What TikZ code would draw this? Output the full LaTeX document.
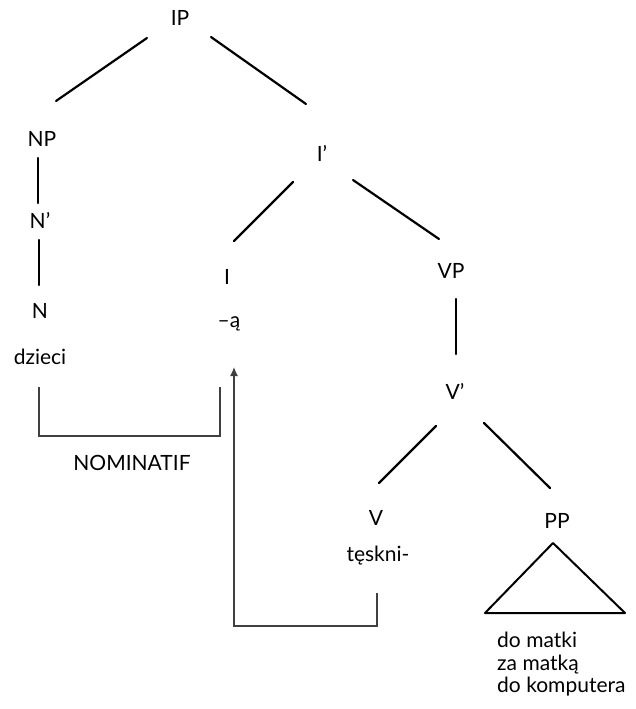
\documentclass[tikz,border=0pt]{standalone}
\usepackage{fontspec}
\setmainfont{Lato}
\usetikzlibrary{arrows.meta}

\begin{document}
\begin{tikzpicture}[x=1pt,y=-1pt,
  font=\fontsize{21}{22.5}\selectfont,
  every node/.style={inner sep=0pt},
  branch/.style={line width=2.2pt, line cap=round},
  link/.style={line width=1.3pt, draw=black!75}]
  \useasboundingbox (0,0) rectangle (635,709);

  % Define the labels of the tree
  \node (IP)     at (180,18)  {IP};
  \node (NP)     at (42,139)  {NP};
  \node (Nbar)   at (40,220)  {N’};
  \node (N)      at (40,311)  {N};
  \node (dzieci) at (40,357)  {dzieci};
  \node (Ibar)   at (322,153) {I’};
  \node (I)      at (227,277) {I};
  \node (suffix) at (229,324) {–ą};
  \node (VP)     at (451,271) {VP};
  \node (Vbar)   at (455,391) {V’};
  \node (V)      at (376,518) {V};
  \node (tesk)   at (378,556) {tęskni-};
  \node (PP)     at (557,521) {PP};
  \node (nomin)  at (132,463) {NOMINATIF};
  \node[align=left, anchor=north west] (lex) at (497,632)
    {do matki\\za matką\\do komputera};

  % Draw the branches
  \foreach \a/\ax/\ay/\b/\bx/\by in {IP/-33/20/NP/14/-38, IP/31/19/Ibar/-16/-49,
      NP/-4/19/Nbar/-2/-17, Nbar/-1/20/N/-1/-26, Ibar/-29/29/I/7/-36,
      Ibar/31/27/VP/-12/-32, VP/5/28/Vbar/1/-37, Vbar/-19/35/V/3/-35,
      Vbar/29/32/PP/-7/-33} {
    \draw[branch] ([shift={(\ax,\ay)}]\a.center) -- ([shift={(\bx,\by)}]\b.center);
  }

  % Draw the triangle under PP
  \draw[line width=2pt, line join=round] ([shift={(-4,22)}]PP.center)
    -- ([shift={(-72,92)}]PP.center) -- ([shift={(68,92)}]PP.center) -- cycle;

  % Draw the case bracket and the movement arrow
  \draw[link] ([shift={(-1,30)}]dzieci.center) -- ++(0,49)
    -| ([shift={(-9,63)}]suffix.center);
  \draw[link, -{Latex[length=9pt,width=8pt]}] ([shift={(-1,37)}]tesk.center)
    -- ++(0,33) -| ([shift={(5,43)}]suffix.center);

\end{tikzpicture}
\end{document}
